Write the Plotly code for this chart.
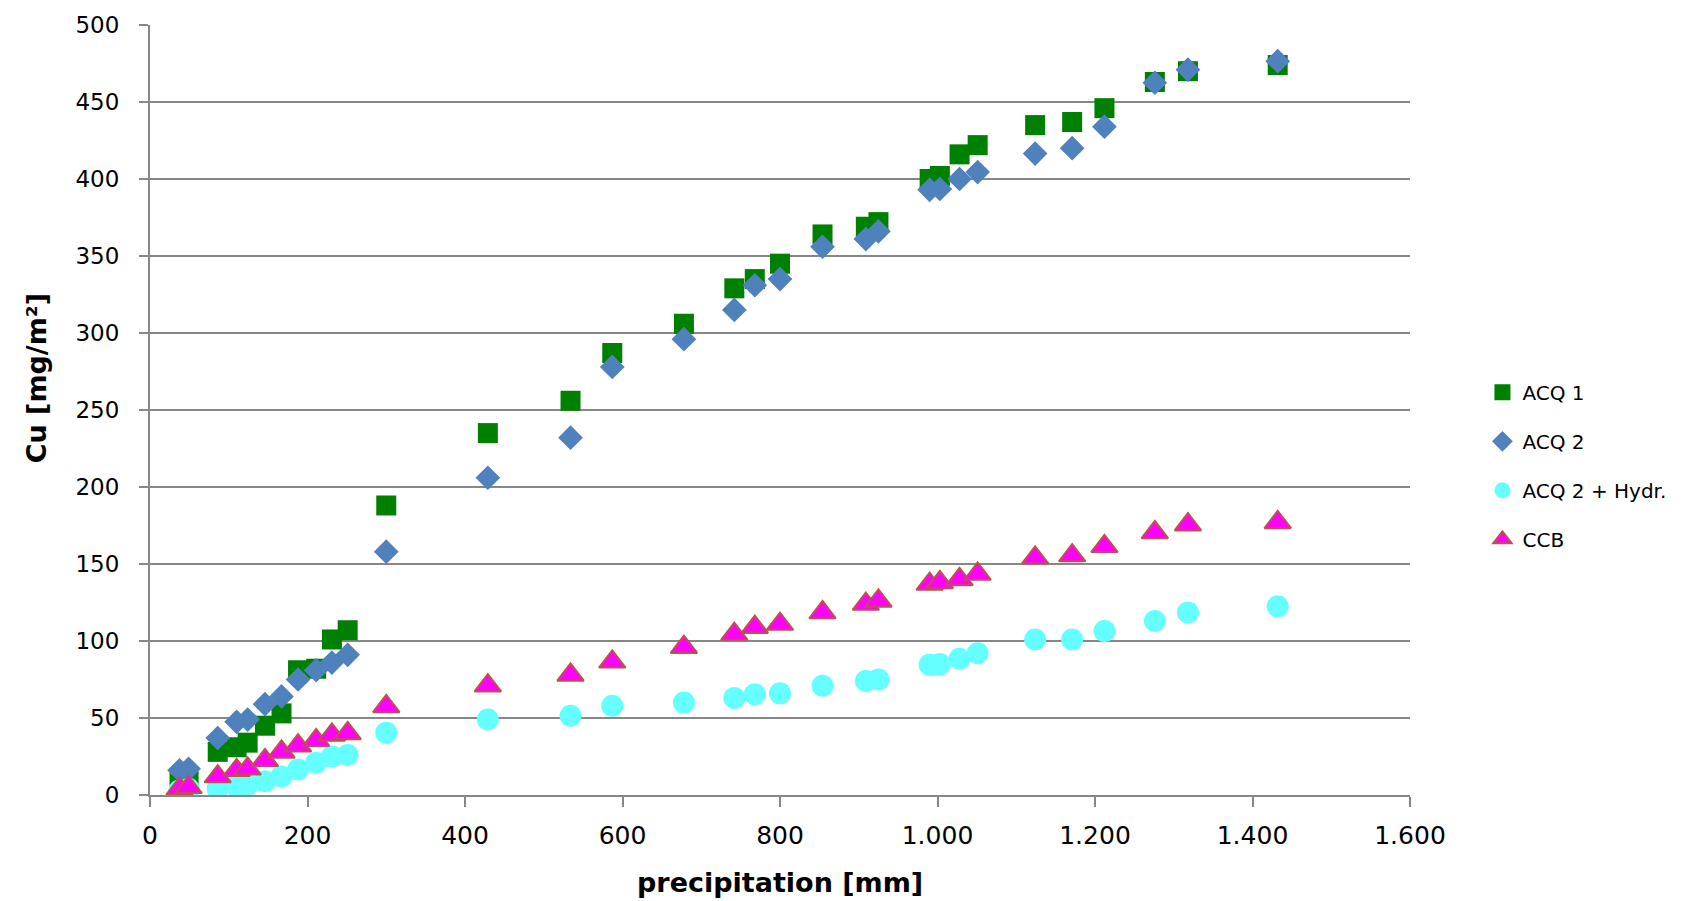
import plotly.graph_objects as go

precipitation = [37.5, 49, 86, 110, 124, 146, 167, 188, 211, 231, 251, 300, 429, 534, 587, 678,
                 742, 768, 800, 854, 909, 925, 990, 1003, 1028, 1051, 1124, 1171, 1212, 1276, 1318, 1432]

acq1 = [11, 12, 28, 31, 34, 45, 53, 81, 82, 101, 107, 188, 235, 256, 287, 306,
        329, 335, 345, 364, 369, 372, 400, 402, 416, 422, 435, 437, 446, 463, 470, 474]

acq2 = [16, 17, 37, 47.5, 49, 59, 64, 75, 81, 86, 91, 158, 206, 232, 278, 296,
        315, 331, 335, 356, 361, 366, 393, 393.5, 400, 404.5, 416.5, 420, 434, 462.5, 471, 476.5]

acq2_hydr = [3, 4, 4, 5.5, 6.5, 9, 12, 16.5, 21, 25, 26, 40.5, 49, 51.5, 58, 60,
             63, 65.5, 66, 71, 74, 75, 84.5, 85, 88.5, 92, 101, 101, 106.5, 113, 118.5, 122.5]

ccb = [4, 5, 12, 16, 17, 22.5, 28, 32, 35.5, 39, 40, 57.5, 71, 78, 86.5, 96,
       104.5, 109, 111, 118.5, 124, 126, 137, 138, 140, 143.5, 154, 155.5, 161.5, 170.5, 175.5, 177]

x_ticks = [0, 200, 400, 600, 800, 1000, 1200, 1400, 1600]
y_ticks = [0, 50, 100, 150, 200, 250, 300, 350, 400, 450, 500]

GRID = "#878787"
FONT = "DejaVu Sans"

fig = go.Figure()
fig.add_trace(go.Scatter(x=precipitation, y=acq1, mode="markers", name="ACQ 1", legendgroup="a",
                         marker=dict(symbol="square", size=20, color="#008000")))
fig.add_trace(go.Scatter(x=precipitation, y=acq2, mode="markers", name="ACQ 2", legendgroup="b",
                         marker=dict(symbol="diamond", size=19, color="#4F81BD")))
fig.add_trace(go.Scatter(x=precipitation, y=acq2_hydr, mode="markers", name="ACQ 2 + Hydr.", legendgroup="c",
                         marker=dict(symbol="circle", size=22, color="#66FFFF")))
fig.add_trace(go.Scatter(x=precipitation, y=ccb, mode="markers", name="CCB", legendgroup="d",
                         marker=dict(symbol="triangle-up", size=23, color="#FF00FF",
                                     line=dict(color="#C0504D", width=2))))

fig.update_layout(
    width=1689, height=901,
    margin=dict(l=150, r=279, t=21, b=106),
    paper_bgcolor="white", plot_bgcolor="white",
    separators=",.",
    font=dict(family=FONT, color="black"),
    showlegend=True,
    legend=dict(x=1.0575, xanchor="left", y=0.4275, yanchor="middle",
                font=dict(family=FONT, size=20, color="black"),
                tracegroupgap=20, bgcolor="rgba(0,0,0,0)"),
    xaxis=dict(range=[0, 1600], tickvals=x_ticks, separatethousands=True, tickformat=",d",
               showgrid=False, zeroline=False, showline=True, linecolor=GRID, linewidth=2,
               ticks="outside", ticklen=10, tickwidth=2, tickcolor=GRID,
               ticklabelstandoff=7,
               tickfont=dict(family=FONT, size=25, color="black")),
    yaxis=dict(range=[0, 500], tickvals=y_ticks,
               showgrid=True, gridcolor=GRID, gridwidth=2, zeroline=False,
               showline=True, linecolor=GRID, linewidth=2,
               ticks="outside", ticklen=9, tickwidth=2, tickcolor=GRID,
               ticklabelstandoff=15,
               tickfont=dict(family=FONT, size=23, color="black")),
    annotations=[
        dict(text="<b>precipitation [mm]</b>", xref="paper", yref="paper", x=0.5, y=-0.1135,
             xanchor="center", yanchor="middle", showarrow=False,
             font=dict(family=FONT, size=27, color="black")),
        dict(text="<b>Cu [mg/m²]</b>", xref="paper", yref="paper", x=-0.0901, y=0.5417,
             xanchor="center", yanchor="middle", textangle=-90, showarrow=False,
             font=dict(family=FONT, size=27, color="black")),
    ],
)

fig.write_html("out.html")
